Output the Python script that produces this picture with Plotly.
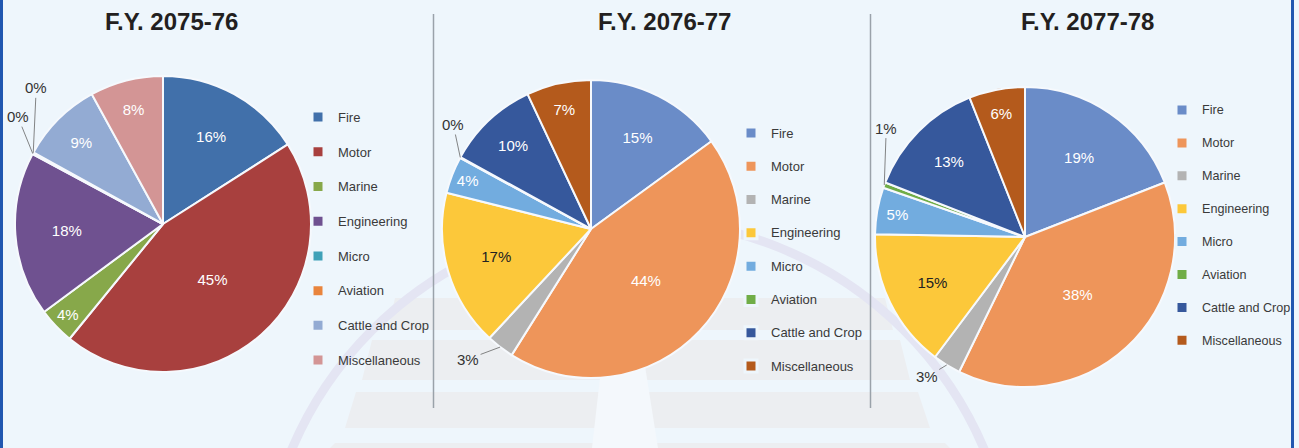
import math
import plotly.graph_objects as go

# ---------------- data ----------------
categories = ["Fire", "Motor", "Marine", "Engineering", "Micro",
              "Aviation", "Cattle and Crop", "Miscellaneous"]
titles = ["F.Y. 2075-76", "F.Y. 2076-77", "F.Y. 2077-78"]
share_2075_76 = [16, 45, 4, 18, 0.1, 0.1, 9, 8]
share_2076_77 = [15, 44, 3, 17, 4, 0.1, 10, 7]
share_2077_78 = [19, 38, 3, 15, 5, 0.6, 13, 6]

# ---------------- styling ----------------
W, H = 1299, 448
BG = "#eef6fc"
colors_1 = ["#4170aa", "#a8403e", "#87a84a", "#6f5190",
            "#3fa1b8", "#e9843c", "#93abd3", "#d39595"]
colors_23 = ["#6a8cc8", "#ee955a", "#b3b3b3", "#fcc83a",
             "#72acdf", "#70ad47", "#36589c", "#b45a1c"]
text_col_1 = ["white"] * 8
text_col_23 = ["white", "white", "white", "#222222", "white", "white", "white", "white"]

# pie geometry in pixels: centre x, centre y, radius
geo = [(163, 224, 148), (591, 229, 149), (1025, 237, 150)]
# slices labelled outside with a leader line: slice index -> (dx, dy) px offset of label
outside = [
    {4: (-15, -37), 5: (3, -65)},
    {2: (-32, 12), 5: (-7, -33)},
    {2: (-20, 12), 5: (2, -57)},
]
# legend: left px, top px, font size (controls row spacing), text size
legend_geo = [(298, 102.6, 12.2, 13), (731, 118.9, 11.65, 13), (1162, 96.0, 11.5, 12.6)]
title_x = [171, 664, 1087]

series = [share_2075_76, share_2076_77, share_2077_78]
palettes = [colors_1, colors_23, colors_23]
text_cols = [text_col_1, text_col_23, text_col_23]
legend_ids = ["legend", "legend2", "legend3"]

FONT = "Liberation Sans, Arial, sans-serif"

fig = go.Figure()
annotations = []
layout_legends = {}

for k, vals in enumerate(series):
    cx, cy, r = geo[k]
    lx, ly, lfs, tfs = legend_geo[k]
    dom = dict(x=[(cx - r) / W, (cx + r) / W],
               y=[1 - (cy + r) / H, 1 - (cy - r) / H])

    # legend-only copy of the pie, hidden underneath the big Motor slice
    mx, my = cx + 0.45 * r, cy + 0.35 * r
    legend_labels = [f"<span style='font-size:{tfs}px'>{c}</span><br> " for c in categories]
    fig.add_trace(go.Pie(
        labels=legend_labels, values=vals, sort=False, direction="clockwise",
        domain=dict(x=[(mx - 1) / W, (mx + 1) / W], y=[1 - (my + 1) / H, 1 - (my - 1) / H]),
        marker=dict(colors=palettes[k], line=dict(color=BG, width=3)),
        textinfo="none", hoverinfo="skip",
        legend=legend_ids[k], legendgroup=f"grp{k}", showlegend=True,
    ))

    textpos = ["none" if i in outside[k] else "inside" for i in range(len(vals))]
    fig.add_trace(go.Pie(
        labels=categories,
        values=vals,
        sort=False,
        direction="clockwise",
        rotation=0,
        domain=dom,
        marker=dict(colors=palettes[k], line=dict(color="#f6f9fd", width=2)),
        texttemplate="%{percent:.0%}",
        textposition=textpos,
        insidetextorientation="horizontal",
        textfont=dict(family=FONT, size=15, color=text_cols[k]),
        hoverinfo="label+percent",
        showlegend=False,
    ))

    # outside labels with leader lines, positioned from the slice angles
    total = sum(vals)
    cum = 0.0
    for i, v in enumerate(vals):
        mid = (cum + v / 2) / total
        cum += v
        if i in outside[k]:
            th = 2 * math.pi * mid
            px = cx + r * math.sin(th)
            py = cy - r * math.cos(th)
            dx, dy = outside[k][i]
            annotations.append(dict(
                x=px / W, y=1 - py / H, xref="paper", yref="paper",
                text=f"{round(100 * v / total)}%",
                showarrow=True, arrowhead=0, arrowwidth=0.8, arrowcolor="#666666",
                standoff=0, ax=dx, ay=dy,
                font=dict(family=FONT, size=15, color="#333333"),
            ))

    # title
    annotations.append(dict(
        x=title_x[k] / W, y=1 - 21 / H,
        xref="paper", yref="paper", showarrow=False,
        text=f"<b>{titles[k]}</b>", xanchor="center", yanchor="middle",
        font=dict(family=FONT, size=24, color="#231f20"),
    ))

    layout_legends[legend_ids[k]] = dict(
        x=lx / W, y=1 - ly / H, xanchor="left", yanchor="top",
        bgcolor="rgba(0,0,0,0)", borderwidth=0, valign="top",
        font=dict(family=FONT, size=lfs, color="#3a3a3a"),
    )

# ---------------- decorative background (watermark, frame) ----------------
def px_path(points):
    return "M " + " L ".join(f"{x / W:.5f},{1 - y / H:.5f}" for x, y in points) + " Z"

shapes = []
band_col = "#eceef1"
bands = [
    [(395, 298), (885, 298), (893, 330), (388, 330)],
    [(372, 340), (900, 340), (910, 380), (362, 380)],
    [(356, 392), (918, 392), (930, 428), (345, 428)],
    [(335, 443), (945, 443), (950, 448), (330, 448)],
]
for b in bands:
    shapes.append(dict(type="path", path=px_path(b), xref="paper", yref="paper",
                       fillcolor=band_col, line=dict(width=0), layer="below"))
shapes.append(dict(type="path", path=px_path([(610, 290), (633, 290), (658, 448), (592, 448)]),
                   xref="paper", yref="paper", fillcolor="#f4f8fc",
                   line=dict(width=0), layer="below"))
ccx, ccy, R = 638, 596, 376
shapes.append(dict(type="circle", xref="paper", yref="paper",
                   x0=(ccx - R) / W, x1=(ccx + R) / W,
                   y0=1 - (ccy + R) / H, y1=1 - (ccy - R) / H,
                   line=dict(color="#e4e5f3", width=9), layer="below"))
# separators
for sx in (433.5, 870.5):
    shapes.append(dict(type="line", xref="paper", yref="paper",
                       x0=sx / W, x1=sx / W, y0=1 - 408 / H, y1=1 - 14 / H,
                       line=dict(color="#9aa2aa", width=1.5)))
# blue frame lines
for fx in (1.5, 1292.5):
    shapes.append(dict(type="line", xref="paper", yref="paper",
                       x0=fx / W, x1=fx / W, y0=0, y1=1,
                       line=dict(color="#2157b0", width=3)))

fig.update_layout(
    width=W, height=H,
    margin=dict(l=0, r=0, t=0, b=0),
    paper_bgcolor=BG, plot_bgcolor=BG,
    showlegend=True,
    annotations=annotations,
    shapes=shapes,
    **layout_legends,
)

fig.write_html("out.html", config={"displayModeBar": False},
               post_script="document.body.style.margin='0';")
